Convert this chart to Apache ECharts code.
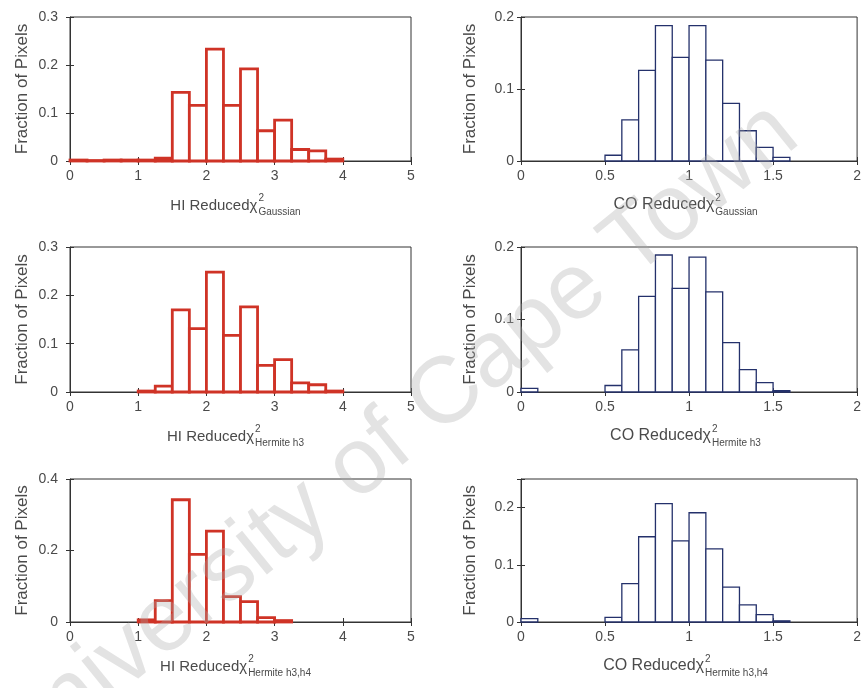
<!DOCTYPE html>
<html>
<head>
<meta charset="utf-8">
<script src="https://cdn.jsdelivr.net/npm/echarts@6/dist/echarts.min.js"></script>
<style>
  html, body { margin: 0; padding: 0; background: #fff; }
  #chart { width: 864px; height: 688px; }
</style>
</head>
<body>
<div id="chart"></div>
<script>
// bin starts (left edges)
const hiBins = [0, 0.25, 0.5, 0.75, 1, 1.25, 1.5, 1.75, 2, 2.25, 2.5, 2.75, 3, 3.25, 3.5, 3.75, 4, 4.25, 4.5, 4.75]
const coBins = [0, 0.1, 0.2, 0.3, 0.4, 0.5, 0.6, 0.7, 0.8, 0.9, 1, 1.1, 1.2, 1.3, 1.4, 1.5, 1.6, 1.7, 1.8, 1.9]

// fraction of pixels per bin
const hiGaussian = [0.002, 0.001, 0.002, 0.002, 0.002, 0.006, 0.143, 0.116, 0.233, 0.116, 0.192, 0.063, 0.085, 0.024, 0.021, 0.004, 0, 0, 0, 0]
const hiH3 = [0, 0, 0, 0, 0.002, 0.012, 0.170, 0.131, 0.248, 0.117, 0.176, 0.055, 0.067, 0.019, 0.015, 0.002, 0, 0, 0, 0]
const hiH3H4 = [0, 0, 0, 0, 0.006, 0.060, 0.342, 0.189, 0.254, 0.071, 0.057, 0.012, 0.004, 0, 0, 0, 0, 0, 0, 0]
const coGaussian = [0, 0, 0, 0, 0, 0.008, 0.057, 0.126, 0.188, 0.144, 0.188, 0.140, 0.080, 0.042, 0.019, 0.005, 0, 0, 0, 0]
const coH3 = [0.005, 0, 0, 0, 0, 0.009, 0.058, 0.132, 0.189, 0.143, 0.186, 0.138, 0.068, 0.031, 0.013, 0.002, 0, 0, 0, 0]
const coH3H4 = [0.006, 0, 0, 0, 0, 0.008, 0.067, 0.149, 0.207, 0.142, 0.191, 0.128, 0.061, 0.030, 0.013, 0.002, 0, 0, 0, 0]

const xTitles = ['HI Reduced', 'CO Reduced', 'HI Reduced', 'CO Reduced', 'HI Reduced', 'CO Reduced']
const subTitles = ['Gaussian', 'Gaussian', 'Hermite h3', 'Hermite h3', 'Hermite h3,h4', 'Hermite h3,h4']
const yTitle = 'Fraction of Pixels'
const watermark = 'University of Cape Town'

const RED = '#cf3326'
const BLUE = '#24316b'
const AXIS = '#333'
const TEXT = '#4a4a4a'
const FONT = "'Liberation Sans', Arial, sans-serif"

// panel layout
const colLeft = [70, 521]
const colWidth = [341, 339]
const rowTop = [17, 247, 479]
const rowHeight = [144, 145, 143]

const panels = [
  { bins: hiBins, values: hiGaussian, w: 0.25, xmax: 5, xint: 1, ymax: 0.3, yint: 0.1, color: RED, lw: 2.8 },
  { bins: coBins, values: coGaussian, w: 0.1, xmax: 2, xint: 0.5, ymax: 0.2, yint: 0.1, color: BLUE, lw: 1.3 },
  { bins: hiBins, values: hiH3, w: 0.25, xmax: 5, xint: 1, ymax: 0.3, yint: 0.1, color: RED, lw: 2.8 },
  { bins: coBins, values: coH3, w: 0.1, xmax: 2, xint: 0.5, ymax: 0.2, yint: 0.1, color: BLUE, lw: 1.3 },
  { bins: hiBins, values: hiH3H4, w: 0.25, xmax: 5, xint: 1, ymax: 0.4, yint: 0.2, color: RED, lw: 2.8 },
  { bins: coBins, values: coH3H4, w: 0.1, xmax: 2, xint: 0.5, ymax: 0.25, yint: 0.1, color: BLUE, lw: 1.3 },
]

const chart = echarts.init(document.getElementById('chart'), null, { renderer: 'canvas' })

const measure = (() => {
  const ctx = document.createElement('canvas').getContext('2d')
  return (str, size) => {
    ctx.font = size + 'px ' + FONT
    return ctx.measureText(str).width
  }
})()

const grid = [], xAxis = [], yAxis = [], series = [], graphic = []

panels.forEach((p, i) => {
  const col = i % 2, row = Math.floor(i / 2)
  const left = colLeft[col], top = rowTop[row], width = colWidth[col], height = rowHeight[row]
  grid.push({ left, top, width, height, show: true, borderColor: AXIS, borderWidth: 1 })

  const tick = { show: true, inside: true, length: 4, lineStyle: { color: AXIS } }
  const hideMax = v => (Math.abs(v / p.yint - Math.round(v / p.yint)) > 1e-6 ? '' : String(+v.toFixed(2)))

  xAxis.push({
    type: 'value', gridIndex: i, min: 0, max: p.xmax, interval: p.xint,
    axisLine: { show: true, onZero: false, lineStyle: { color: AXIS } },
    axisTick: tick, splitLine: { show: false },
    axisLabel: { color: TEXT, fontSize: 14, fontFamily: FONT, margin: 8 },
  })
  xAxis.push({
    type: 'value', gridIndex: i, position: 'top', min: 0, max: p.xmax, interval: p.xint,
    axisLine: { show: false }, axisTick: tick, axisLabel: { show: false }, splitLine: { show: false },
  })
  yAxis.push({
    type: 'value', gridIndex: i, min: 0, max: p.ymax, interval: p.yint,
    axisLine: { show: true, lineStyle: { color: AXIS } },
    axisTick: tick, splitLine: { show: false },
    axisLabel: { color: TEXT, fontSize: 14, fontFamily: FONT, margin: col === 0 ? 12 : 7, formatter: hideMax },
    name: yTitle, nameLocation: 'middle', nameGap: col === 0 ? 39 : 42, nameRotate: 90,
    nameTextStyle: { color: TEXT, fontSize: 17, fontFamily: FONT },
  })
  yAxis.push({
    type: 'value', gridIndex: i, position: 'right', min: 0, max: p.ymax, interval: p.yint,
    axisLine: { show: false }, axisTick: tick, axisLabel: { show: false }, splitLine: { show: false },
  })

  series.push({
    type: 'custom',
    xAxisIndex: i * 2,
    yAxisIndex: i * 2,
    data: p.bins.map((b, k) => [b, p.values[k]]).filter(d => d[1] > 0),
    renderItem: (params, api) => {
      const x0 = api.value(0), v = api.value(1)
      const a = api.coord([x0, 0])
      const b = api.coord([x0 + p.w, v])
      return {
        type: 'rect',
        shape: { x: a[0], y: b[1], width: b[0] - a[0], height: a[1] - b[1] },
        style: { fill: '#fff', stroke: p.color, lineWidth: p.lw },
      }
    },
    silent: true,
    animation: false,
  })

  // x axis title with chi, superscript 2 and subscript model name
  const main = xTitles[i] + 'χ'
  const mainSize = col === 0 ? 15 : 16, smallSize = 10
  const wMain = measure(main, mainSize)
  const wSub = measure(subTitles[i], smallSize)
  const total = wMain + 1 + wSub
  const cx = left + width / 2 - 5
  const by = top + height + 52
  const x0 = cx - total / 2
  graphic.push(
    { type: 'text', x: x0, y: by, style: { text: main, font: mainSize + 'px ' + FONT, fill: TEXT, textVerticalAlign: 'bottom' } },
    { type: 'text', x: x0 + wMain + 1, y: by - 10, style: { text: '2', font: smallSize + 'px ' + FONT, fill: TEXT, textVerticalAlign: 'bottom' } },
    { type: 'text', x: x0 + wMain + 1, y: by + 4, style: { text: subTitles[i], font: smallSize + 'px ' + FONT, fill: TEXT, textVerticalAlign: 'bottom' } },
  )
})

graphic.push({
  type: 'text', x: 392, y: 440, rotation: 0.68, z: 100, silent: true,
  style: { text: watermark, font: '94px ' + FONT, fill: 'rgba(170,170,170,0.33)', textAlign: 'center', textVerticalAlign: 'middle' },
})

chart.setOption({
  animation: false,
  backgroundColor: '#fff',
  grid, xAxis, yAxis, series, graphic,
})
</script>
</body>
</html>
